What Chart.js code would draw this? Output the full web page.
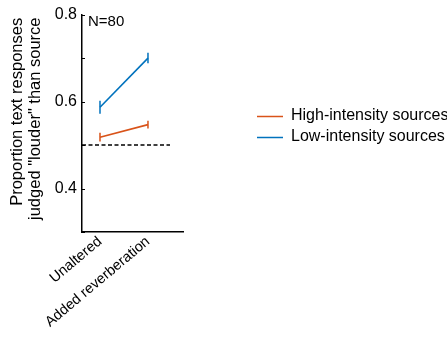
<!DOCTYPE html>
<html>
<head>
<meta charset="utf-8">
<script src="https://cdn.jsdelivr.net/npm/chart.js@4"></script>
<style>
  html, body { margin: 0; padding: 0; background: #fff; }
  #wrap { width: 447px; height: 337px; }
</style>
</head>
<body>
<div id="wrap"><canvas id="graph" width="447" height="337"></canvas></div>
<script>
// datos
const categorias = ['Unaltered', 'Added reverberation'];
const posX = [1, 2];
const altaIntensidad = [0.518, 0.547];
const altaError = [0.010, 0.009];
const bajaIntensidad = [0.587, 0.700];
const bajaError = [0.015, 0.012];
const nivelAzar = 0.5;
const finAzar = 2.46;
const ticksY = [0.3, 0.4, 0.5, 0.6, 0.7, 0.8];
const etiquetasY = [0.4, 0.6, 0.8];
const xMin = 0.625, xMax = 2.73;

const naranja = '#D95319';
const azul = '#0072BD';
const fuente = "'Liberation Sans', Arial, sans-serif";

// plugin para barras de error, ticks hacia adentro, N=80 y leyenda
const extras = {
  id: 'extras',
  afterDatasetsDraw(chart) {
    const ctx = chart.ctx;
    const x = chart.scales.x, y = chart.scales.y;
    const area = chart.chartArea;
    ctx.save();
    // barras de error
    [[altaIntensidad, altaError, naranja], [bajaIntensidad, bajaError, azul]].forEach(([vals, errs, col]) => {
      ctx.strokeStyle = col;
      ctx.lineWidth = 1.5;
      vals.forEach((v, i) => {
        const px = x.getPixelForValue(posX[i]);
        ctx.beginPath();
        ctx.moveTo(px, y.getPixelForValue(v - errs[i]));
        ctx.lineTo(px, y.getPixelForValue(v + errs[i]));
        ctx.stroke();
      });
    });
    // ticks hacia adentro
    ctx.strokeStyle = '#000';
    ctx.lineWidth = 1;
    ticksY.forEach(t => {
      const py = Math.round(y.getPixelForValue(t)) + 0.5;
      ctx.beginPath();
      ctx.moveTo(area.left, py);
      ctx.lineTo(area.left + 3, py);
      ctx.stroke();
    });
    // N=80
    ctx.fillStyle = '#000';
    ctx.font = '15px ' + fuente;
    ctx.textAlign = 'left';
    ctx.textBaseline = 'middle';
    ctx.fillText('N=80', area.left + 6, area.top + 7);
    // leyenda
    ctx.font = '16px ' + fuente;
    const items = [chart.data.datasets[0], chart.data.datasets[1]];
    items.forEach((ds, i) => {
      const ly = 116.5 + i * 21;
      ctx.strokeStyle = ds.borderColor;
      ctx.lineWidth = 1.5;
      ctx.beginPath();
      ctx.moveTo(257, ly);
      ctx.lineTo(283, ly);
      ctx.stroke();
      ctx.fillStyle = '#000';
      ctx.fillText(ds.label, 291, ly - 1);
    });
    ctx.restore();
  }
};

new Chart(document.getElementById('graph').getContext('2d'), {
  type: 'line',
  data: {
    datasets: [
      {
        label: 'High-intensity sources',
        data: posX.map((v, i) => ({ x: v, y: altaIntensidad[i] })),
        borderColor: naranja,
        borderWidth: 1.6,
        pointRadius: 0
      },
      {
        label: 'Low-intensity sources',
        data: posX.map((v, i) => ({ x: v, y: bajaIntensidad[i] })),
        borderColor: azul,
        borderWidth: 1.6,
        pointRadius: 0
      },
      {
        label: 'azar',
        data: [{ x: xMin, y: nivelAzar }, { x: finAzar, y: nivelAzar }],
        borderColor: '#000',
        borderWidth: 1.5,
        borderDash: [4, 2.5],
        pointRadius: 0
      }
    ]
  },
  options: {
    responsive: false,
    animation: false,
    layout: { padding: { top: 7, right: 264, left: 9, bottom: 0 } },
    plugins: { legend: { display: false }, tooltip: { enabled: false } },
    scales: {
      x: {
        type: 'linear',
        min: xMin,
        max: xMax,
        afterBuildTicks: (s) => { s.ticks = posX.map(v => ({ value: v })); },
        afterFit: (s) => { s.height = 105; },
        ticks: {
          callback: (v) => categorias[posX.indexOf(v)] || '',
          minRotation: 40,
          maxRotation: 40,
          color: '#000',
          font: { family: fuente, size: 14.5 },
          padding: 1
        },
        grid: { display: true, drawOnChartArea: false, drawTicks: false },
        border: { color: '#000', width: 1.5 }
      },
      y: {
        min: 0.3,
        max: 0.8,
        afterBuildTicks: (s) => { s.ticks = ticksY.map(v => ({ value: v })); },
        afterFit: (s) => { s.width = 73; },
        ticks: {
          callback: (v) => etiquetasY.some(e => Math.abs(e - v) < 1e-6) ? v.toFixed(1) : '',
          color: '#000',
          font: { family: fuente, size: 16 },
          padding: 5
        },
        grid: { display: true, drawOnChartArea: false, drawTicks: false },
        border: { color: '#000', width: 1.5 },
        title: {
          display: true,
          text: ['     Proportion text responses', '  judged "louder" than source'],
          color: '#000',
          font: { family: fuente, size: 16.5, lineHeight: 1.05 },
          padding: { top: 0, bottom: 0 }
        }
      }
    }
  },
  plugins: [extras]
});
</script>
</body>
</html>
